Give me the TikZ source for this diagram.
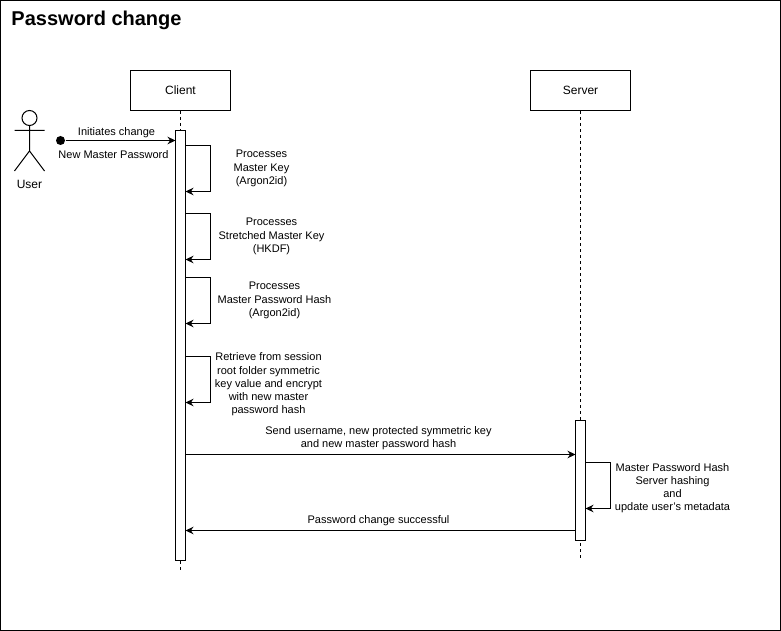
\documentclass[tikz,border=0pt]{standalone}
\usepackage{fontspec}
\setmainfont{Liberation Sans}
\usetikzlibrary{arrows.meta}
\tikzset{
 box/.style={draw,fill=white,minimum width=100pt,minimum height=40pt,inner sep=0pt,font=\fontsize{12}{14}\selectfont},
 lbl/.style={align=center,inner sep=0pt,font=\fontsize{11}{13.2}\selectfont},
 msg/.style={-{Stealth[length=8pt,width=7.5pt]},line width=1pt},
 life/.style={dash pattern=on 3pt off 3pt,line width=1pt},
}
\begin{document}
\begin{tikzpicture}[x=1pt,y=-1pt,line width=1pt]
\useasboundingbox (0,0) rectangle (781,631);
\draw (0.5,0.5) rectangle (780.5,630.5);
\node[anchor=west,inner sep=0pt,font=\bfseries\fontsize{20}{24}\selectfont] (title) at (11,20) {Password change};
\node[box] (client) at (180.5,90.5) {Client};
\node[box] (server) at (580.5,90.5) {Server};
\coordinate (cend) at (180.5,570);
\coordinate (send) at (580.5,558);
\draw[life] (client.south) -- (cend);
\draw[life] (server.south) -- (send);
\draw[fill=white] (175.5,130.5) rectangle (185.5,560.5);
\draw[fill=white] (575.5,420.5) rectangle (585.5,540.5);
% actor
\draw (29.5,118) circle (7.5);
\coordinate (head) at (29.5,125.5);
\coordinate (hip) at (29.5,151);
\draw (head) -- (hip) (14.5,130.5) -- (44.5,130.5) (14.5,171) -- (hip) -- (44.5,171);
\node[lbl,font=\fontsize{12}{14}\selectfont] (user) at (29.5,184) {User};
% initiates
\node[circle,fill=black,inner sep=0pt,minimum size=9pt] (dot) at (60.5,140.5) {};
\draw[msg] (dot) -- (175.5,140.5);
\node[lbl] (m0a) at (116.5,133) {Initiates change};
\node[lbl] (m0b) at (113.5,155) {New Master Password};
% self loops
\foreach \y in {145.5,213.5,277.5,356.5}{
 \draw[msg] (185.5,\y) -- (210.5,\y) -- (210.5,\y+46) -- (185.5,\y+46);
}
\node[lbl] at (261.5,168.5) {Processes\\Master Key\\(Argon2id)};
\node[lbl] at (271.5,236.5) {Processes\\Stretched Master Key\\(HKDF)};
\node[lbl] at (274.5,300.5) {Processes\\Master Password Hash\\(Argon2id)};
\node[lbl] at (268.5,384.5) {Retrieve from session\\root folder symmetric\\key value and encrypt\\with new master\\password hash};
\draw[msg] (185.5,454.5) -- (575.5,454.5);
\node[lbl] at (378.5,438.5) {Send username, new protected symmetric key\\and new master password hash};
\draw[msg] (585.5,462.5) -- (610.5,462.5) -- (610.5,508.5) -- (585.5,508.5);
\node[lbl] at (672.5,488) {Master Password Hash\\Server hashing\\and\\update user's metadata};
\draw[msg] (575.5,530.5) -- (185.5,530.5);
\node[lbl] at (378.5,520.5) {Password change successful};
\end{tikzpicture}
\end{document}
